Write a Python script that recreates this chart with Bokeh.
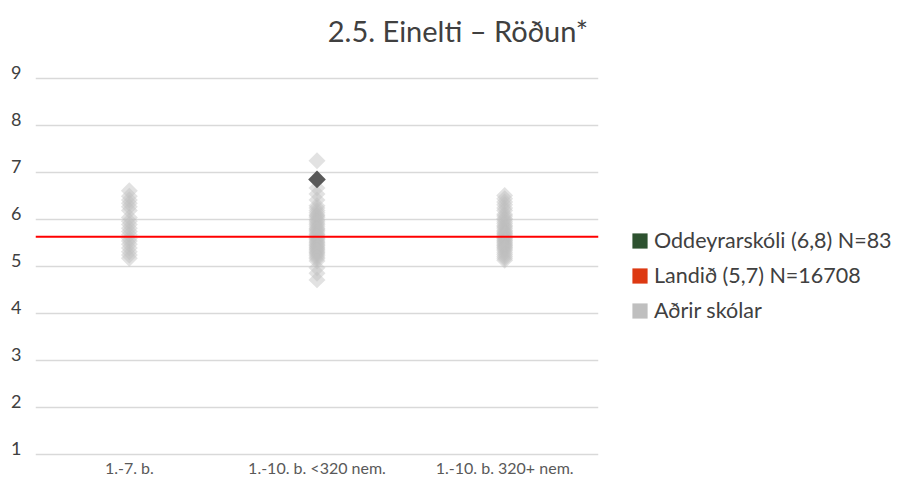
import math
from bokeh.plotting import figure
from bokeh.layouts import row
from bokeh.models import (FactorRange, Range1d, Span, Legend, LegendItem,
                          FixedTicker, ColumnDataSource, Label)
from bokeh.core.properties import value
from bokeh.embed import file_html
from bokeh.resources import INLINE

# ---------------- data ----------------
categories = ["1.-7. b.", "1.-10. b. <320 nem.", "1.-10. b. 320+ nem."]

cat1_values = [6.62, 6.50, 6.42, 6.35, 6.28, 6.20, 6.05, 5.97, 5.90, 5.82,
               5.75, 5.68, 5.60, 5.55, 5.48, 5.40, 5.32, 5.25, 5.18]

cat2_values = [7.26, 6.68, 6.55, 6.42,
               6.30, 6.25, 6.20, 6.15, 6.10, 6.08, 6.05, 6.00, 5.97, 5.93,
               5.90, 5.86, 5.82, 5.80, 5.77, 5.74, 5.70, 5.68, 5.65, 5.62,
               5.60, 5.58, 5.55, 5.52, 5.50, 5.47, 5.45, 5.42, 5.40, 5.37,
               5.35, 5.32, 5.30, 5.27, 5.24, 5.20, 5.17, 5.12,
               4.98, 4.86, 4.72]

cat3_values = [6.52, 6.45, 6.38, 6.32, 6.25, 6.20,
               6.12, 6.08, 6.03, 6.00, 5.96, 5.92, 5.88, 5.85, 5.82, 5.78,
               5.75, 5.72, 5.70, 5.67, 5.64, 5.62, 5.60, 5.57, 5.55, 5.52,
               5.50, 5.47, 5.45, 5.42, 5.40, 5.37, 5.34, 5.30, 5.26, 5.22,
               5.18, 5.14]

school_category = "1.-10. b. <320 nem."
school_value = 6.86
national_mean = 5.64

legend_labels = ["Oddeyrarskóli (6,8) N=83", "Landið (5,7) N=16708", "Aðrir skólar"]
legend_colors = ["#2e5230", "#dd3912", "#bfbfbf"]
y_ticks = [1, 2, 3, 4, 5, 6, 7, 8, 9]
title_text = "2.5. Einelti – Röðun*"

# ---------------- main figure ----------------
FONT = "Lato"
LABEL_LIFT = 0.128   # tick labels sit slightly above their gridline (Excel style)

p = figure(width=610, height=477,
           x_range=FactorRange(*categories, range_padding=0),
           y_range=Range1d(0.51, 10.672),
           x_axis_location=None,
           output_backend="svg", toolbar_location=None,
           min_border_left=35, min_border_right=12,
           min_border_top=0, min_border_bottom=0)

p.outline_line_color = None
p.background_fill_color = "white"
p.border_fill_color = "white"

# gridlines at the integer ticks
p.xgrid.visible = False
p.ygrid[0].ticker = FixedTicker(ticks=y_ticks)
p.ygrid.grid_line_color = "#d9d9d9"
p.ygrid.grid_line_width = 1.5

# tick labels
label_pos = [round(t + LABEL_LIFT, 3) for t in y_ticks]
yax = p.yaxis[0]
yax.ticker = FixedTicker(ticks=label_pos)
yax.major_label_overrides = {lp: str(t) for lp, t in zip(label_pos, y_ticks)}
yax.axis_line_color = None
yax.major_tick_line_color = None
yax.minor_tick_line_color = None
yax.major_label_text_font = FONT
yax.major_label_text_font_size = "18px"
yax.major_label_text_color = "#404040"
yax.major_label_standoff = 8

# title
p.add_layout(Label(x=2.251, y=10.03, text=title_text,
                   text_font=FONT, text_font_size="29px", text_color="#404040",
                   text_align="center", text_baseline="alphabetic"))

# category labels along the bottom
lab_src = ColumnDataSource(dict(x=categories, y=[0.723] * len(categories), text=categories))
p.text(x="x", y="y", text="text", source=lab_src,
       text_font=value(FONT), text_font_size="16px", text_color="#595959",
       text_align="center", text_baseline="alphabetic")

# other schools
for cat, vals in zip(categories, [cat1_values, cat2_values, cat3_values]):
    src = ColumnDataSource(dict(x=[cat] * len(vals), y=vals))
    p.scatter(x="x", y="y", source=src, marker="square", angle=math.pi / 4,
              size=12, fill_color="#bfbfbf", fill_alpha=0.45, line_color=None)

# national mean
p.add_layout(Span(location=national_mean, dimension="width",
                  line_color="#ff0000", line_width=2))

# the school
p.scatter(x=[school_category], y=[school_value], marker="square",
          angle=math.pi / 4, size=12.5, fill_color="#595959", line_color=None)

# ---------------- legend figure ----------------
lg = figure(width=291, height=477, x_range=Range1d(0, 1), y_range=Range1d(0, 1),
            x_axis_location=None, y_axis_location=None,
            output_backend="svg", toolbar_location=None,
            min_border_left=0, min_border_right=0,
            min_border_top=0, min_border_bottom=0)
lg.outline_line_color = None
lg.xgrid.visible = False
lg.ygrid.visible = False
lg.background_fill_color = "white"
lg.border_fill_color = "white"

items = []
nan = float("nan")
for lab, col in zip(legend_labels, legend_colors):
    r = lg.quad(left=[nan], right=[nan], top=[nan], bottom=[nan],
                fill_color=col, line_color=None)
    items.append(LegendItem(label=lab, renderers=[r]))

legend = Legend(items=items, location=(20, 154),
                border_line_color=None, background_fill_alpha=0,
                label_text_font=FONT, label_text_font_size="21.5px",
                label_text_color="#404040",
                glyph_width=19, glyph_height=19, label_standoff=5,
                spacing=9, padding=0, margin=0)
lg.add_layout(legend, "center")

open("out.html", "w").write(file_html(row(p, lg), INLINE))
